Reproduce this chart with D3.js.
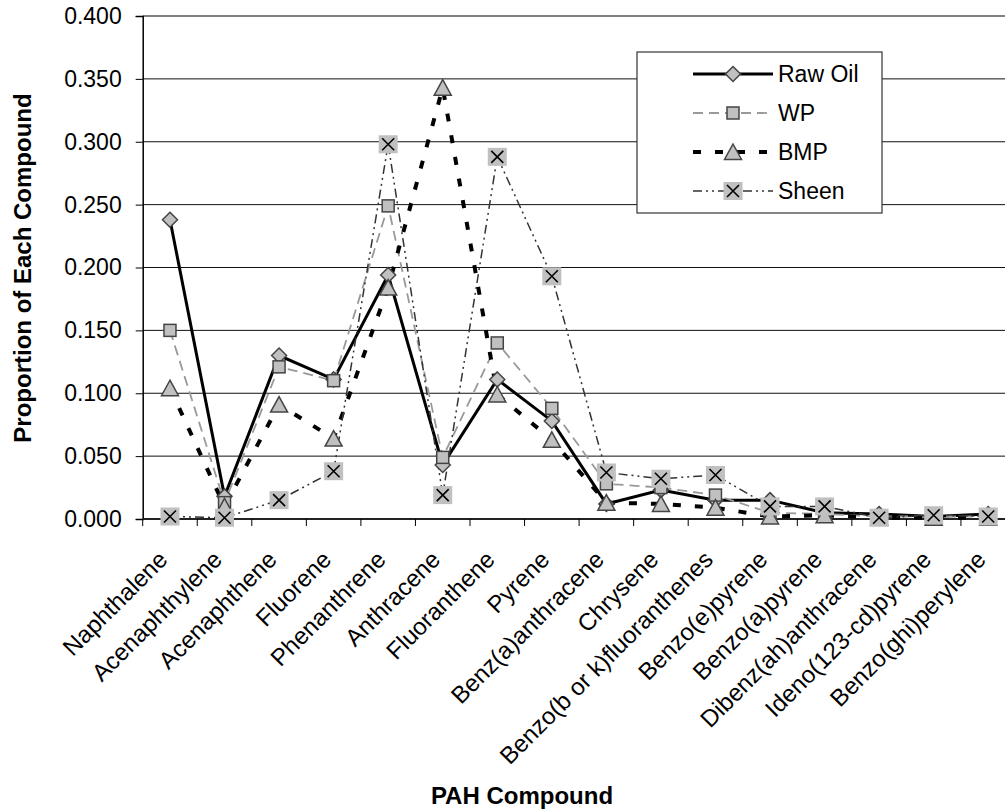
<!DOCTYPE html>
<html>
<head>
<meta charset="utf-8">
<script src="https://cdn.jsdelivr.net/npm/d3@7"></script>
<style>
  body { margin: 0; background: #fff; }
  svg { display: block; font-family: "Liberation Sans", Arial, sans-serif; }
</style>
</head>
<body>
<svg id="chart" width="1005" height="812"></svg>
<script>
// chart data
const categories = ["Naphthalene", "Acenaphthylene", "Acenaphthene", "Fluorene", "Phenanthrene",
  "Anthracene", "Fluoranthene", "Pyrene", "Benz(a)anthracene", "Chrysene",
  "Benzo(b or k)fluoranthenes", "Benzo(e)pyrene", "Benzo(a)pyrene", "Dibenz(ah)anthracene",
  "Ideno(123-cd)pyrene", "Benzo(ghi)perylene"];
const seriesNames = ["Raw Oil", "WP", "BMP", "Sheen"];
const rawOil = [0.238, 0.018, 0.130, 0.111, 0.194, 0.043, 0.111, 0.078, 0.012, 0.023, 0.015, 0.015, 0.005, 0.004, 0.002, 0.004];
const wp     = [0.150, 0.013, 0.121, 0.110, 0.249, 0.049, 0.140, 0.088, 0.028, 0.025, 0.019, 0.005, 0.004, 0.002, 0.002, 0.002];
const bmp    = [0.104, 0.010, 0.091, 0.064, 0.184, 0.343, 0.099, 0.063, 0.013, 0.012, 0.009, 0.002, 0.003, 0.001, 0.001, 0.001];
const sheen  = [0.002, 0.001, 0.015, 0.038, 0.298, 0.019, 0.288, 0.193, 0.037, 0.032, 0.035, 0.010, 0.010, 0.001, 0.003, 0.002];
const yTicks = [0, 0.05, 0.1, 0.15, 0.2, 0.25, 0.3, 0.35, 0.4];

// line / marker styles per series
const styles = [
  { color: "#000", width: 3, dash: null, marker: "diamond" },
  { color: "#999", width: 1.8, dash: "10,6", marker: "square" },
  { color: "#000", width: 4, dash: "8,14", marker: "triangle" },
  { color: "#333", width: 1.5, dash: "9,4,2,4,2,4", marker: "cross" }
];
const seriesData = [rawOil, wp, bmp, sheen];
const series = seriesNames.map((name, i) => ({ name: name, values: seriesData[i], style: styles[i] }));

const plotLeft = 142.7, plotRight = 1015.5, plotTop = 16, plotBottom = 519;
const svg = d3.select("#chart");

const x = d3.scaleBand().domain(categories).range([plotLeft, plotRight]);
const y = d3.scaleLinear().domain([0, 0.4]).range([plotBottom, plotTop]);
const cx = c => x(c) + x.bandwidth() / 2;

// gridlines
svg.append("g")
  .selectAll("line")
  .data(yTicks.slice(1))
  .join("line")
  .attr("x1", plotLeft).attr("x2", plotRight)
  .attr("y1", d => y(d)).attr("y2", d => y(d))
  .attr("stroke", d => d === 0.4 ? "#808080" : "#111")
  .attr("stroke-width", d => d === 0.4 ? 2 : 1);

// y axis
const yAxis = svg.append("g")
  .attr("transform", `translate(${plotLeft},0)`)
  .call(d3.axisLeft(y).tickValues(yTicks).tickFormat(d3.format(".3f")).tickSize(7).tickPadding(14));
yAxis.select(".domain").attr("stroke", "#000").attr("stroke-width", 1.5);
yAxis.selectAll(".tick line").attr("stroke", "#000");
yAxis.selectAll("text").attr("font-size", 23).attr("fill", "#000")
  .attr("font-family", "Liberation Sans, Arial, sans-serif");

// x axis line and tick marks at category borders
svg.append("line")
  .attr("x1", plotLeft).attr("x2", plotRight)
  .attr("y1", plotBottom).attr("y2", plotBottom)
  .attr("stroke", "#222").attr("stroke-width", 2);
svg.append("g")
  .selectAll("line")
  .data(categories.map(c => x(c)).concat([plotRight]))
  .join("line")
  .attr("x1", d => d).attr("x2", d => d)
  .attr("y1", plotBottom).attr("y2", plotBottom + 7)
  .attr("stroke", "#000");

// category labels, rotated
svg.append("g")
  .selectAll("text")
  .data(categories)
  .join("text")
  .attr("transform", d => `translate(${cx(d) - 1},561) rotate(-45)`)
  .attr("text-anchor", "end")
  .attr("font-size", 24)
  .text(d => d);

// axis titles
svg.append("text")
  .attr("x", 522).attr("y", 804)
  .attr("text-anchor", "middle")
  .attr("font-size", 24).attr("font-weight", "bold")
  .text("PAH Compound");
svg.append("text")
  .attr("transform", "translate(31,268) rotate(-90)")
  .attr("text-anchor", "middle")
  .attr("font-size", 24).attr("font-weight", "bold")
  .text("Proportion of Each Compound");

// draws one marker in group g
function drawMarker(g, type) {
  if (type === "diamond") {
    g.append("path").attr("d", "M0,-7.5L7.5,0L0,7.5L-7.5,0Z")
      .attr("fill", "#c0c0c0").attr("stroke", "#444").attr("stroke-width", 1.5);
  } else if (type === "square") {
    g.append("rect").attr("x", -6).attr("y", -6).attr("width", 12).attr("height", 12)
      .attr("fill", "#c0c0c0").attr("stroke", "#444").attr("stroke-width", 1.5);
  } else if (type === "triangle") {
    g.append("path").attr("d", "M0,-8L8.5,7.5L-8.5,7.5Z")
      .attr("fill", "#c0c0c0").attr("stroke", "#444").attr("stroke-width", 1.5);
  } else {
    g.append("rect").attr("x", -9.5).attr("y", -9).attr("width", 19).attr("height", 18)
      .attr("fill", "#c0c0c0");
    g.append("path").attr("d", "M-6,-6L6,6M6,-6L-6,6")
      .attr("stroke", "#000").attr("stroke-width", 1.6);
  }
}

// lines first, then markers on top
const line = d3.line()
  .x((d, i) => cx(categories[i]))
  .y(d => y(d));

svg.append("g")
  .selectAll("path")
  .data(series)
  .join("path")
  .attr("d", s => line(s.values))
  .attr("fill", "none")
  .attr("stroke", s => s.style.color)
  .attr("stroke-width", s => s.style.width)
  .attr("stroke-dasharray", s => s.style.dash);

series.forEach(s => {
  svg.append("g")
    .selectAll("g")
    .data(s.values)
    .join("g")
    .attr("transform", (d, i) => `translate(${cx(categories[i])},${y(d)})`)
    .each(function () { drawMarker(d3.select(this), s.style.marker); });
});

// legend
const legend = svg.append("g");
legend.append("rect")
  .attr("x", 637).attr("y", 52).attr("width", 245).attr("height", 161)
  .attr("fill", "#fff").attr("stroke", "#333").attr("stroke-width", 1.2);
const rows = legend.selectAll("g")
  .data(series)
  .join("g")
  .attr("transform", (d, i) => `translate(0,${74 + i * 39})`);
rows.append("line")
  .attr("x1", 693).attr("x2", 773)
  .attr("stroke", s => s.style.color)
  .attr("stroke-width", s => s.style.width)
  .attr("stroke-dasharray", s => s.style.dash);
rows.append("g")
  .attr("transform", "translate(733,0)")
  .each(function (s) { drawMarker(d3.select(this), s.style.marker); });
rows.append("text")
  .attr("x", 778).attr("y", 8)
  .attr("font-size", 23)
  .text(s => s.name);
</script>
</body>
</html>
